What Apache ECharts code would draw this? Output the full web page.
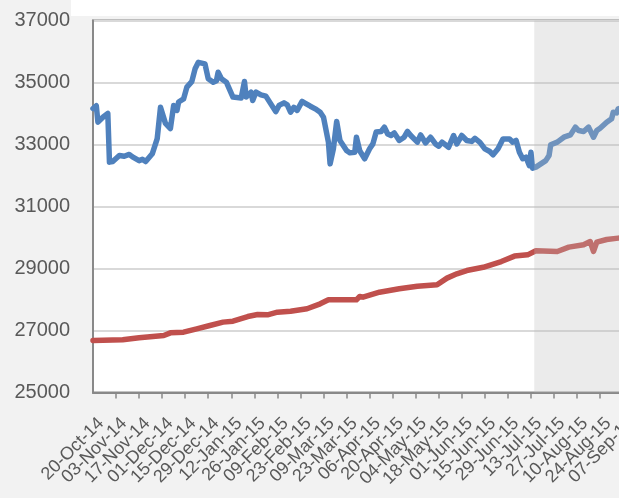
<!DOCTYPE html>
<html>
<head>
<meta charset="utf-8">
<script src="https://cdn.jsdelivr.net/npm/echarts@6/dist/echarts.min.js"></script>
<style>
html,body{margin:0;padding:0;background:#f2f2f2;}
#chart{width:619px;height:498px;}
</style>
</head>
<body>
<div id="chart"></div>
<script>
// x values are days since 20-Oct-14
const xTickLabels = ['20-Oct-14','03-Nov-14','17-Nov-14','01-Dec-14','15-Dec-14','29-Dec-14','12-Jan-15','26-Jan-15','09-Feb-15','23-Feb-15','09-Mar-15','23-Mar-15','06-Apr-15','20-Apr-15','04-May-15','18-May-15','01-Jun-15','15-Jun-15','29-Jun-15','13-Jul-15','27-Jul-15','10-Aug-15','24-Aug-15','07-Sep-15'];
const yTicks = [25000, 27000, 29000, 31000, 33000, 35000, 37000];

const blueDays = [0,2,3,6,9,10,12,16,19,22,24,28,30,32,36,39,41,44,47,49,51,52,55,57,60,62,64,68,70,73,75,76,78,81,85,90,92,93,96,97,99,102,105,108,111,113,116,118,120,122,124,127,129,132,135,138,140,143,144,146,148,150,154,156,159,160,162,165,168,170,172,175,177,179,181,183,186,189,191,193,197,199,202,205,208,210,212,216,219,221,224,227,230,232,235,238,241,243,246,249,253,255,257,259,261,263,265,266,267,269,272,275,277,278,282,286,290,293,295,298,301,304,306,308,312,315,316,318,319,322];
const blueValues = [34160,34250,33720,33880,34000,32430,32450,32645,32620,32680,32600,32480,32520,32450,32700,33190,34200,33680,33515,34260,34100,34370,34470,34850,35030,35440,35650,35600,35120,35010,35060,35330,35120,35010,34530,34500,35030,34530,34690,34420,34690,34600,34560,34310,34060,34260,34345,34280,34040,34200,34100,34390,34330,34235,34150,34040,33880,33075,32375,32860,33740,33130,32806,32730,32750,33235,32800,32540,32860,33020,33400,33420,33560,33340,33290,33375,33130,33235,33420,33290,33075,33310,33050,33235,33020,32945,33075,32910,33290,33020,33290,33130,33100,33200,33070,32860,32775,32670,32860,33180,33180,33075,33130,32750,32540,32590,32320,32750,32235,32270,32375,32480,32645,32990,33075,33235,33310,33560,33450,33420,33560,33235,33450,33525,33720,33830,34040,34020,34150,34200];

const redDays = [0,18,28,43,47,55,63,71,79,85,94,100,106,112,120,130,138,143,153,160,162,164,174,186,197,209,215,221,227,237,248,256,264,269,282,289,298,302,304,306,312,319,322];
const redValues = [26677,26700,26765,26840,26925,26945,27055,27160,27270,27300,27450,27515,27505,27590,27620,27700,27860,27990,27990,27990,28100,28075,28235,28345,28430,28475,28690,28830,28935,29040,29225,29400,29440,29570,29550,29690,29765,29870,29550,29850,29935,29980,29990];

const shadeStartDay = 268;
const xMaxDay = 336;

const pair = (xs, ys) => xs.map((x, i) => [x, ys[i]]);
const tickLabel = v => (v % 14 === 0 && xTickLabels[v / 14]) ? xTickLabels[v / 14] : '';

const chart = echarts.init(document.getElementById('chart'), null, {renderer: 'canvas'});
const labelFont = 'Liberation Sans';
const xLabelStyle = {
  rotate: 45, margin: 20, align: 'right', verticalAlign: 'top', padding: [5, 0, 0, 0],
  color: '#595959', fontFamily: labelFont, fontSize: 18, lineHeight: 13, hideOverlap: false
};
chart.setOption({
  animation: false,
  backgroundColor: '#f2f2f2',
  graphic: [{
    type: 'rect', left: 71, top: 0, z: -1,
    shape: {width: 548, height: 16},
    style: {fill: '#ffffff'}
  }],
  grid: {
    left: 93, top: 20.5, width: xMaxDay * 1.6464, height: 372,
    outerBoundsMode: 'none', containLabel: false,
    show: true, backgroundColor: '#ffffff', borderColor: '#898989', borderWidth: 2
  },
  xAxis: [{
    type: 'value', min: 0, max: xMaxDay, interval: 14, position: 'bottom',
    axisLine: {show: true, lineStyle: {color: '#898989', width: 2}},
    axisTick: {show: true, length: 6, lineStyle: {color: '#898989', width: 1.5}},
    splitLine: {show: false},
    axisLabel: Object.assign({}, xLabelStyle, {
      showMinLabel: false, showMaxLabel: false,
      formatter: v => v === 0 ? '' : tickLabel(v)
    })
  }, {
    // carries only the first date label, so the axis does not drop a label for overlap
    type: 'value', min: 0, max: xMaxDay, interval: 14, position: 'bottom',
    axisLine: {show: false}, axisTick: {show: false}, splitLine: {show: false},
    axisLabel: Object.assign({}, xLabelStyle, {
      showMinLabel: true, showMaxLabel: false,
      formatter: v => v === 0 ? tickLabel(v) : ''
    })
  }],
  yAxis: {
    type: 'value', min: yTicks[0], max: yTicks[yTicks.length - 1], interval: 2000,
    axisLine: {show: true, lineStyle: {color: '#898989', width: 2}},
    axisTick: {show: false},
    splitLine: {show: true, lineStyle: {color: '#d9d9d9', width: 2}},
    axisLabel: {
      margin: 23, color: '#595959', fontFamily: labelFont, fontSize: 20,
      showMinLabel: true, showMaxLabel: true,
      formatter: v => String(v)
    }
  },
  series: [
    {
      type: 'line', name: 'blue', z: 2, showSymbol: false, symbol: 'none',
      data: pair(blueDays, blueValues),
      lineStyle: {color: '#4f81bd', width: 5.5, join: 'round', cap: 'round'}
    },
    {
      type: 'line', name: 'red', z: 2, showSymbol: false, symbol: 'none',
      data: pair(redDays, redValues),
      lineStyle: {color: '#c0504d', width: 5.5, join: 'round', cap: 'round'}
    },
    {
      type: 'line', name: 'shade', z: 10, data: [], showSymbol: false,
      markArea: {
        z: 10, silent: true,
        itemStyle: {color: 'rgba(189,189,189,0.3)'},
        data: [[{xAxis: shadeStartDay}, {xAxis: xMaxDay}]]
      }
    }
  ]
});
</script>
</body>
</html>
